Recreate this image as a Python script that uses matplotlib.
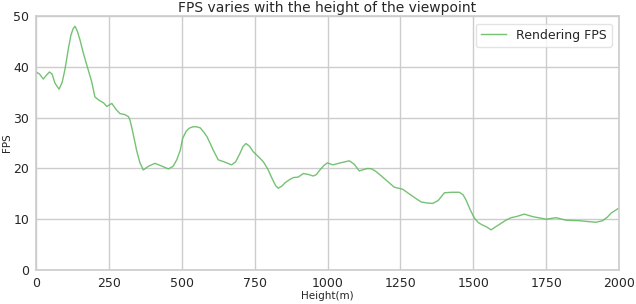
import matplotlib
matplotlib.use("Agg")
import matplotlib.pyplot as plt

height_m = [0, 12, 25, 35, 46, 55, 65, 79, 90, 100, 111, 120, 128, 134, 142, 151, 162,
            174, 191, 202, 212, 220, 232, 243, 260, 275, 288, 305, 317, 322, 328,
            337, 345, 356, 368, 385, 408, 430, 454, 470, 483, 495, 503, 515, 525, 538,
            551, 563, 575, 587, 597, 608, 625, 645, 671, 685, 700, 710, 720, 732, 745,
            765, 780, 795, 810, 822, 831, 843, 855, 870, 883, 900, 917, 935, 951, 962,
            974, 988, 1000, 1018, 1045, 1075, 1092, 1109, 1125, 1138, 1152, 1166, 1185,
            1201, 1215, 1229, 1258, 1275, 1290, 1305, 1321, 1340, 1361, 1380, 1401,
            1425, 1452, 1465, 1475, 1490, 1504, 1518, 1530, 1545, 1561, 1585, 1612,
            1630, 1647, 1675, 1704, 1750, 1784, 1818, 1864, 1900, 1921, 1944, 1960,
            1973, 2000]
fps = [39.0, 38.6, 37.6, 38.3, 39.0, 38.6, 36.8, 35.6, 37.0, 39.7, 43.6, 46.3, 47.6,
       48.0, 47.0, 45.3, 42.8, 40.4, 37.1, 34.1, 33.6, 33.3, 32.9, 32.2, 32.8, 31.6,
       30.8, 30.6, 30.2, 29.6, 28.2, 25.8, 23.6, 21.2, 19.7, 20.4, 21.0, 20.5, 19.9,
       20.4, 21.7, 23.6, 25.9, 27.3, 27.9, 28.2, 28.2, 28.0, 27.2, 26.2, 25.0, 23.6,
       21.7, 21.3, 20.7, 21.3, 23.0, 24.3, 24.9, 24.4, 23.3, 22.2, 21.3, 19.9, 18.0,
       16.6, 16.1, 16.5, 17.2, 17.8, 18.2, 18.3, 19.0, 18.8, 18.5, 18.8, 19.7, 20.6,
       21.1, 20.7, 21.1, 21.5, 20.8, 19.5, 19.8, 20.0, 19.9, 19.4, 18.5, 17.7, 17.0,
       16.3, 15.9, 15.2, 14.6, 14.0, 13.4, 13.2, 13.1, 13.7, 15.2, 15.3, 15.3, 14.8,
       13.8, 11.8, 10.2, 9.3, 8.9, 8.5, 7.9, 8.8, 9.8, 10.3, 10.5, 11.0, 10.5, 10.0,
       10.3, 9.8, 9.7, 9.5, 9.4, 9.7, 10.4, 11.2, 12.2]

x_ticks = [0, 250, 500, 750, 1000, 1250, 1500, 1750, 2000]
y_ticks = [0, 10, 20, 30, 40, 50]

fig = plt.figure(figsize=(6.36, 3.04), dpi=100)
ax = fig.add_axes([0.0566, 0.112, 0.9167, 0.835])
ax.plot(height_m, fps, color="#5cb85c", alpha=0.85, linewidth=1.0, label="Rendering FPS")
ax.set_xlim(0, 2000)
ax.set_ylim(0, 50)
ax.set_xticks(x_ticks)
ax.set_yticks(y_ticks)
ax.grid(True, color="#cccccc", linewidth=1.0)
ax.set_axisbelow(True)
for s in ax.spines.values():
    s.set_color("#cccccc")
    s.set_linewidth(1.2)
ax.tick_params(length=0, labelsize=9, colors="#262626", pad=5)
ax.set_title("FPS varies with the height of the viewpoint", fontsize=10, color="#262626", pad=3)
ax.set_xlabel("Height(m)", fontsize=7.5, color="#262626", labelpad=1)
ax.set_ylabel("FPS", fontsize=7.5, color="#262626", labelpad=1)
leg = ax.legend(loc="upper right", fontsize=9, frameon=True, borderaxespad=0.6)
leg.get_frame().set_edgecolor("#dddddd")
for t in leg.get_texts():
    t.set_color("#262626")
fig.savefig("out.png", dpi=100)
